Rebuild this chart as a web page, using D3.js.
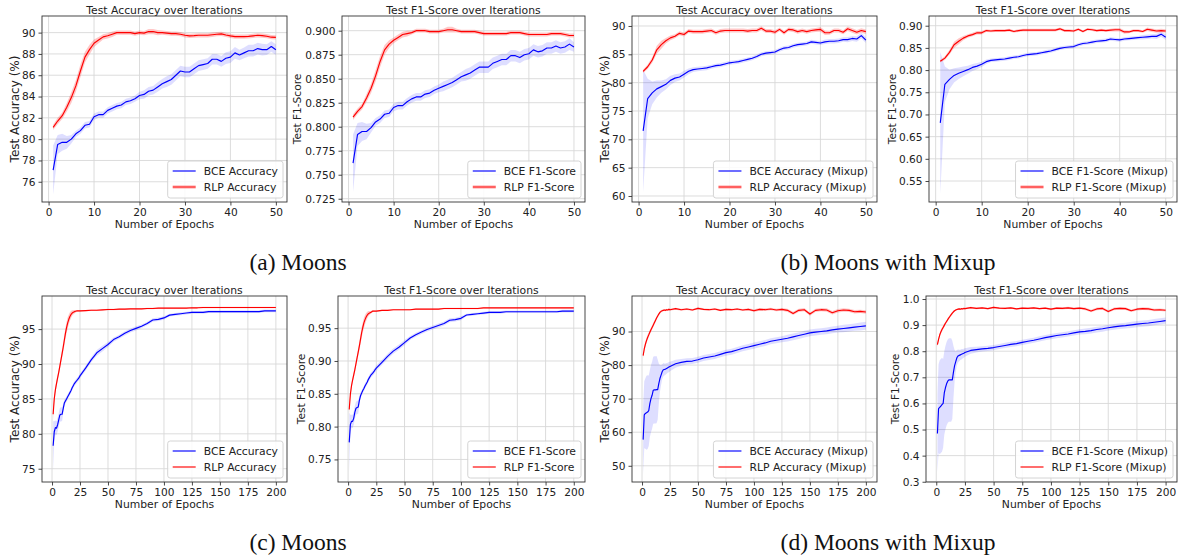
<!DOCTYPE html>
<html><head><meta charset="utf-8">
<script src="https://cdn.jsdelivr.net/npm/d3@7"></script>
<style>
body{margin:0;background:#fff;}
svg{display:block;font-family:"DejaVu Sans",sans-serif;}
</style></head><body>
<svg id="chart" width="1180" height="560"></svg>
<script>
// ---------------- epochs ----------------
const epochs50 = d3.range(1, 51);
const epochs200 = d3.range(1, 26).concat(d3.range(30, 201, 5));

// ---------------- tick labels ----------------
const xTicks50 = [0, 10, 20, 30, 40, 50];
const xTicks200 = [0, 25, 50, 75, 100, 125, 150, 175, 200];
const yTicksA1 = [76, 78, 80, 82, 84, 86, 88, 90];
const yTicksA2 = [0.725, 0.75, 0.775, 0.8, 0.825, 0.85, 0.875, 0.9];
const yTicksB1 = [60, 65, 70, 75, 80, 85, 90];
const yTicksB2 = [0.55, 0.6, 0.65, 0.7, 0.75, 0.8, 0.85, 0.9];
const yTicksC1 = [75, 80, 85, 90, 95];
const yTicksC2 = [0.75, 0.8, 0.85, 0.9, 0.95];
const yTicksD1 = [50, 60, 70, 80, 90];
const yTicksD2 = [0.3, 0.4, 0.5, 0.6, 0.7, 0.8, 0.9, 1.0];

// ---------------- (a) Moons, 50 epochs ----------------
const aBceAcc = [77.1,79.5,79.7,79.7,80.0,80.5,80.8,81.3,81.4,82.1,82.3,82.3,82.7,82.9,83.1,83.2,83.5,83.6,83.8,84.1,84.2,84.5,84.6,84.9,85.2,85.4,85.6,86.0,86.4,86.3,86.3,86.6,86.9,87.0,87.1,87.5,87.5,87.3,87.6,87.7,88.1,87.9,88.1,88.3,88.3,88.5,88.4,88.4,88.7,88.4];
const aBceAccSd = [2.3,0.9,0.8,0.6,0.4,0.3,0.3,0.3,0.3,0.3,0.3,0.3,0.3,0.3,0.3,0.3,0.3,0.3,0.3,0.35,0.4,0.4,0.4,0.45,0.45,0.5,0.5,0.5,0.5,0.5,0.5,0.5,0.5,0.5,0.5,0.5,0.5,0.5,0.55,0.55,0.55,0.5,0.5,0.55,0.55,0.55,0.55,0.5,0.5,0.5];
const aRlpAcc = [81.1,81.7,82.2,83.0,83.9,85.0,86.4,87.7,88.4,89.0,89.3,89.6,89.7,89.85,90.0,90.0,90.0,90.0,89.9,90.0,89.95,90.1,90.1,90.0,90.0,89.95,89.9,89.9,89.85,89.75,89.7,89.72,89.75,89.75,89.75,89.8,89.85,89.88,89.78,89.7,89.63,89.63,89.63,89.65,89.7,89.75,89.72,89.66,89.57,89.55];
const aRlpAccSd = [0.25,0.3,0.3,0.4,0.5,0.55,0.6,0.5,0.45,0.35,0.3,0.25,0.25,0.25,0.2,0.2,0.2,0.2,0.2,0.2,0.2,0.25,0.25,0.25,0.2,0.2,0.2,0.2,0.2,0.2,0.2,0.2,0.2,0.2,0.2,0.2,0.2,0.2,0.2,0.2,0.2,0.2,0.2,0.2,0.2,0.2,0.2,0.2,0.2,0.2];
const aBceF1 = [0.762,0.792,0.795,0.795,0.799,0.805,0.808,0.813,0.814,0.820,0.822,0.822,0.826,0.829,0.831,0.831,0.834,0.835,0.838,0.840,0.842,0.844,0.846,0.849,0.852,0.854,0.856,0.859,0.862,0.862,0.862,0.866,0.868,0.870,0.870,0.874,0.874,0.872,0.875,0.876,0.880,0.878,0.879,0.882,0.882,0.884,0.882,0.883,0.886,0.883];
const aBceF1Sd = [0.03,0.012,0.01,0.008,0.005,0.004,0.004,0.004,0.004,0.004,0.004,0.004,0.004,0.004,0.004,0.004,0.004,0.004,0.004,0.004,0.005,0.005,0.005,0.005,0.005,0.006,0.006,0.006,0.006,0.006,0.006,0.006,0.006,0.006,0.006,0.006,0.006,0.006,0.006,0.006,0.006,0.006,0.006,0.006,0.006,0.006,0.006,0.006,0.006,0.005];
const aRlpF1 = [0.810,0.816,0.821,0.830,0.840,0.853,0.868,0.880,0.886,0.890,0.893,0.896,0.897,0.898,0.900,0.900,0.900,0.899,0.899,0.899,0.900,0.901,0.901,0.900,0.899,0.899,0.899,0.899,0.898,0.897,0.897,0.897,0.897,0.897,0.897,0.898,0.898,0.898,0.897,0.896,0.896,0.896,0.896,0.896,0.897,0.897,0.897,0.896,0.895,0.895];
const aRlpF1Sd = [0.003,0.003,0.003,0.004,0.005,0.006,0.006,0.005,0.004,0.003,0.003,0.003,0.003,0.002,0.002,0.002,0.002,0.002,0.002,0.002,0.002,0.003,0.003,0.002,0.002,0.002,0.002,0.002,0.002,0.002,0.002,0.002,0.002,0.002,0.002,0.002,0.002,0.002,0.002,0.002,0.002,0.002,0.002,0.002,0.002,0.002,0.002,0.002,0.002,0.002];

// ---------------- (b) Moons with Mixup, 50 epochs ----------------
const bBceAcc = [71.5,77.2,78.2,78.9,79.3,79.7,80.4,80.8,81.0,81.5,82.0,82.3,82.4,82.5,82.6,82.8,83.0,83.1,83.3,83.5,83.6,83.7,83.9,84.1,84.3,84.6,85.0,85.2,85.3,85.4,85.8,86.1,86.2,86.5,86.7,86.8,86.9,87.2,87.1,87.0,87.2,87.3,87.3,87.4,87.6,87.6,87.8,87.7,88.3,87.5];
const bBceAccSd = [10.8,3.5,2.0,1.5,1.1,0.9,0.8,0.7,0.6,0.6,0.5,0.4,0.4,0.4,0.4,0.35,0.35,0.35,0.35,0.35,0.35,0.35,0.35,0.35,0.35,0.35,0.35,0.35,0.35,0.35,0.35,0.35,0.35,0.35,0.35,0.35,0.35,0.35,0.35,0.35,0.4,0.4,0.4,0.4,0.4,0.45,0.45,0.5,0.5,0.5];
const bRlpAcc = [82.0,82.8,84.0,85.8,86.7,87.4,87.9,88.2,88.7,88.5,89.1,89.0,89.0,89.0,89.1,89.2,88.8,89.1,89.2,89.2,89.2,89.2,89.2,89.1,89.2,89.2,89.6,89.1,89.1,88.9,89.4,88.8,89.4,89.3,89.0,89.2,89.0,89.2,89.3,89.4,88.8,88.8,89.2,89.2,88.9,89.5,89.2,88.9,89.2,89.0];
const bRlpAccSd = [0.3,0.4,0.5,0.7,0.7,0.5,0.4,0.35,0.35,0.35,0.35,0.35,0.35,0.35,0.35,0.35,0.35,0.35,0.35,0.35,0.35,0.35,0.35,0.35,0.35,0.35,0.35,0.35,0.35,0.35,0.35,0.35,0.35,0.35,0.35,0.35,0.35,0.35,0.35,0.4,0.4,0.35,0.35,0.35,0.35,0.4,0.4,0.4,0.4,0.4];
const bBceF1 = [0.681,0.768,0.779,0.788,0.793,0.797,0.801,0.806,0.809,0.813,0.819,0.822,0.823,0.824,0.825,0.827,0.829,0.830,0.833,0.835,0.836,0.837,0.839,0.841,0.843,0.846,0.849,0.851,0.852,0.853,0.857,0.860,0.861,0.863,0.865,0.866,0.867,0.870,0.869,0.868,0.870,0.871,0.872,0.873,0.874,0.875,0.876,0.876,0.881,0.874];
const bBceF1Sd = [0.16,0.04,0.022,0.016,0.013,0.011,0.009,0.008,0.007,0.006,0.005,0.004,0.004,0.004,0.004,0.004,0.004,0.004,0.004,0.004,0.004,0.004,0.004,0.004,0.004,0.004,0.004,0.004,0.004,0.004,0.004,0.004,0.004,0.004,0.004,0.004,0.004,0.004,0.004,0.004,0.004,0.004,0.004,0.004,0.005,0.005,0.005,0.006,0.006,0.006];
const bRlpF1 = [0.820,0.827,0.840,0.857,0.865,0.872,0.877,0.880,0.884,0.884,0.889,0.888,0.889,0.889,0.889,0.890,0.887,0.889,0.890,0.890,0.890,0.890,0.890,0.890,0.890,0.890,0.893,0.889,0.889,0.888,0.892,0.887,0.892,0.891,0.889,0.890,0.889,0.890,0.891,0.891,0.886,0.886,0.889,0.889,0.887,0.892,0.890,0.888,0.889,0.888];
const bRlpF1Sd = [0.003,0.004,0.005,0.007,0.007,0.005,0.004,0.004,0.004,0.004,0.003,0.003,0.003,0.003,0.003,0.003,0.003,0.003,0.003,0.003,0.003,0.003,0.003,0.003,0.003,0.003,0.003,0.003,0.003,0.003,0.003,0.003,0.003,0.003,0.003,0.003,0.003,0.003,0.004,0.004,0.004,0.003,0.003,0.003,0.003,0.004,0.004,0.004,0.004,0.004];

// ---------------- (c) Moons, 200 epochs ----------------
const cBceAcc = [78.3,80.3,80.9,80.8,81.3,82.0,82.7,82.8,82.8,83.6,84.4,84.7,85.0,85.3,85.6,85.9,86.2,86.6,86.9,87.2,87.4,87.6,87.8,88.0,88.3,
  89.4,90.6,91.6,92.2,92.8,93.5,93.9,94.4,94.8,95.1,95.4,95.8,96.3,96.4,96.6,97.0,97.1,97.2,97.3,97.4,97.4,97.4,97.5,97.5,97.5,97.5,97.5,97.5,97.5,97.5,97.5,97.5,97.6,97.6,97.6];
const cBceAccSd = [3.5,1.5,1.0,1.0,1.0,1.0,1.0,1.0,1.0,0.6,0.5,0.4,0.4,0.4,0.35,0.35,0.35,0.35,0.35,0.35,0.35,0.35,0.35,0.35,0.35,
  0.35,0.35,0.4,0.4,0.35,0.3,0.3,0.3,0.3,0.3,0.25,0.25,0.25,0.25,0.25,0.2,0.2,0.2,0.2,0.2,0.2,0.2,0.2,0.2,0.2,0.2,0.2,0.2,0.2,0.2,0.2,0.2,0.2,0.2,0.2];
const cRlpAcc = [82.8,85.0,86.3,87.2,88.0,88.8,89.7,90.6,91.5,92.4,93.4,94.4,95.2,95.9,96.4,96.8,97.1,97.3,97.4,97.5,97.55,97.6,97.6,97.6,97.6,
  97.65,97.7,97.7,97.75,97.8,97.8,97.85,97.85,97.9,97.9,97.9,97.95,97.95,98.0,98.0,98.0,98.0,98.0,98.0,98.05,98.05,98.1,98.1,98.1,98.1,98.1,98.1,98.1,98.1,98.1,98.1,98.1,98.1,98.1,98.1];
const cRlpAccSd = [0.8,0.5,0.5,0.5,0.5,0.5,0.5,0.5,0.6,0.7,0.8,0.8,0.8,0.8,0.7,0.6,0.5,0.4,0.3,0.25,0.2,0.15,0.12,0.1,0.1,
  0.1,0.1,0.1,0.1,0.1,0.1,0.1,0.1,0.1,0.1,0.1,0.1,0.1,0.1,0.1,0.1,0.1,0.1,0.1,0.1,0.1,0.1,0.1,0.1,0.1,0.1,0.1,0.1,0.1,0.1,0.1,0.1,0.1,0.1,0.1];
const cBceF1 = [0.776,0.803,0.808,0.808,0.813,0.822,0.828,0.829,0.830,0.840,0.847,0.851,0.855,0.858,0.862,0.865,0.868,0.872,0.875,0.878,0.880,0.882,0.884,0.887,0.889,
  0.898,0.907,0.915,0.921,0.928,0.935,0.940,0.944,0.948,0.951,0.954,0.957,0.962,0.963,0.965,0.970,0.971,0.972,0.973,0.974,0.974,0.974,0.975,0.975,0.975,0.975,0.975,0.975,0.975,0.975,0.975,0.975,0.976,0.976,0.976];
const cBceF1Sd = [0.045,0.015,0.01,0.01,0.01,0.01,0.01,0.01,0.01,0.006,0.005,0.004,0.004,0.004,0.004,0.004,0.004,0.004,0.004,0.004,0.004,0.004,0.004,0.004,0.004,
  0.004,0.004,0.004,0.004,0.004,0.003,0.003,0.003,0.003,0.003,0.003,0.003,0.003,0.003,0.003,0.002,0.002,0.002,0.002,0.002,0.002,0.002,0.002,0.002,0.002,0.002,0.002,0.002,0.002,0.002,0.002,0.002,0.002,0.002,0.002];
const cRlpF1 = [0.826,0.849,0.862,0.871,0.879,0.887,0.896,0.905,0.914,0.923,0.933,0.943,0.951,0.958,0.963,0.967,0.970,0.972,0.973,0.974,0.975,0.976,0.976,0.976,0.976,
  0.977,0.977,0.978,0.978,0.978,0.978,0.979,0.979,0.979,0.979,0.979,0.980,0.980,0.980,0.980,0.980,0.980,0.980,0.981,0.981,0.981,0.981,0.981,0.981,0.981,0.981,0.981,0.981,0.981,0.981,0.981,0.981,0.981,0.981,0.981];
const cRlpF1Sd = [0.008,0.005,0.005,0.005,0.005,0.005,0.005,0.005,0.006,0.007,0.008,0.008,0.008,0.008,0.007,0.006,0.005,0.004,0.003,0.002,0.002,0.0015,0.001,0.001,0.001,
  0.001,0.001,0.001,0.001,0.001,0.001,0.001,0.001,0.001,0.001,0.001,0.001,0.001,0.001,0.001,0.001,0.001,0.001,0.001,0.001,0.001,0.001,0.001,0.001,0.001,0.001,0.001,0.001,0.001,0.001,0.001,0.001,0.001,0.001,0.001];

// ---------------- (d) Moons with Mixup, 200 epochs ----------------
const dBceAcc = [57.8,65.2,65.6,65.8,66.0,66.4,68.5,70.0,71.0,72.5,72.6,72.6,72.7,72.7,74.5,76.0,77.0,78.0,78.6,78.7,78.8,79.0,79.2,79.4,79.6,
  80.4,80.8,81.1,81.2,81.6,82.1,82.4,82.7,83.2,83.7,84.0,84.5,85.0,85.4,85.8,86.2,86.6,87.1,87.4,87.7,88.0,88.4,88.8,89.2,89.6,89.8,90.0,90.2,90.5,90.7,90.9,91.1,91.3,91.5,91.7];
const dBceAccSd = [10.3,10,10.5,11,11,10.5,10,10,10,10,10,10,10,9,6,4,3,2.2,2,1.8,1.7,1.6,1.5,1.5,1.4,
  1.2,1.0,0.9,0.9,0.9,0.9,0.9,0.9,0.9,0.9,0.9,0.9,0.9,0.9,0.9,0.9,0.9,0.9,0.9,0.9,1.0,1.0,1.0,1.0,1.0,1.0,1.0,1.0,1.0,1.0,1.1,1.1,1.1,1.2,1.2];
const dRlpAcc = [82.8,84.8,86.2,87.3,88.2,89.0,89.8,90.5,91.2,91.9,92.6,93.3,94.0,94.6,95.2,95.7,96.0,96.2,96.3,96.4,96.3,96.5,96.4,96.6,96.5,
  96.8,96.5,96.7,96.4,96.9,96.6,96.5,96.7,96.3,96.6,96.5,96.7,96.4,96.6,96.2,96.6,96.5,96.7,96.4,96.6,96.3,95.4,96.3,96.5,95.2,96.3,96.5,96.4,95.6,96.2,96.4,96.3,95.9,96.0,95.8];
const dRlpAccSd = [0.8,0.8,0.8,0.8,0.8,0.7,0.7,0.6,0.6,0.6,0.6,0.6,0.5,0.5,0.5,0.4,0.4,0.3,0.3,0.3,0.3,0.3,0.3,0.3,0.3,
  0.3,0.3,0.3,0.3,0.3,0.3,0.3,0.3,0.3,0.3,0.3,0.3,0.3,0.3,0.4,0.4,0.4,0.4,0.4,0.4,0.5,0.5,0.5,0.5,0.5,0.5,0.5,0.5,0.5,0.5,0.5,0.5,0.5,0.5,0.5];
const dBceF1 = [0.485,0.580,0.585,0.590,0.595,0.600,0.640,0.660,0.675,0.685,0.690,0.690,0.690,0.690,0.720,0.745,0.760,0.775,0.782,0.784,0.786,0.788,0.790,0.792,0.795,
  0.803,0.806,0.809,0.811,0.814,0.818,0.822,0.826,0.829,0.834,0.838,0.842,0.847,0.852,0.856,0.860,0.863,0.866,0.870,0.874,0.876,0.879,0.883,0.886,0.890,0.893,0.896,0.898,0.901,0.904,0.906,0.908,0.911,0.914,0.917];
const dBceF1Sd = [0.15,0.17,0.18,0.18,0.18,0.17,0.16,0.16,0.16,0.16,0.16,0.16,0.16,0.15,0.1,0.06,0.04,0.03,0.025,0.022,0.02,0.02,0.018,0.017,0.016,
  0.013,0.011,0.01,0.01,0.01,0.01,0.01,0.01,0.01,0.01,0.01,0.01,0.01,0.01,0.01,0.01,0.01,0.01,0.01,0.01,0.011,0.011,0.011,0.011,0.011,0.011,0.011,0.011,0.012,0.012,0.012,0.012,0.012,0.012,0.012];
const dRlpF1 = [0.825,0.845,0.862,0.874,0.883,0.891,0.899,0.907,0.914,0.921,0.928,0.934,0.940,0.946,0.951,0.955,0.958,0.960,0.961,0.962,0.961,0.963,0.962,0.964,0.963,
  0.967,0.964,0.966,0.963,0.968,0.965,0.964,0.966,0.962,0.965,0.964,0.966,0.963,0.965,0.961,0.965,0.964,0.966,0.963,0.965,0.962,0.954,0.962,0.964,0.952,0.962,0.964,0.963,0.955,0.961,0.963,0.962,0.958,0.959,0.957];
const dRlpF1Sd = [0.008,0.008,0.008,0.008,0.008,0.007,0.007,0.006,0.006,0.006,0.006,0.006,0.005,0.005,0.005,0.004,0.004,0.003,0.003,0.003,0.003,0.003,0.003,0.003,0.003,
  0.003,0.003,0.003,0.003,0.003,0.003,0.003,0.003,0.003,0.003,0.003,0.003,0.003,0.003,0.004,0.004,0.004,0.004,0.004,0.004,0.005,0.005,0.005,0.005,0.005,0.005,0.005,0.005,0.005,0.005,0.005,0.005,0.005,0.005,0.005];

// ---------------- text ----------------
const titleAcc = "Test Accuracy over Iterations";
const titleF1 = "Test F1-Score over Iterations";
const captions = ["(a) Moons", "(b) Moons with Mixup", "(c) Moons", "(d) Moons with Mixup"];

// ---------------- layout ----------------
const f0 = d3.format("d"), f3 = d3.format(".3f"), f2 = d3.format(".2f"), f1 = d3.format(".1f");
const panels = [
  {frame:[42,287,16,202], xDom:[-1.45,52.45], yDom:[74.1,91.56], yTicks:yTicksA1, yFmt:f0, xTicks:xTicks50, title:titleAcc, ylabel:"Test Accuracy (%)", ylx:15, ylfs:12,
   epochs:epochs50, bce:aBceAcc, bceSd:aBceAccSd, rlp:aRlpAcc, rlpSd:aRlpAccSd, labels:["BCE Accuracy","RLP Accuracy"], thick:true},
  {frame:[342,585,16,202], xDom:[-1.45,52.45], yDom:[0.7216,0.9153], yTicks:yTicksA2, yFmt:f3, xTicks:xTicks50, title:titleF1, ylabel:"Test F1-Score", ylx:297, ylfs:10.6,
   epochs:epochs50, bce:aBceF1, bceSd:aBceF1Sd, rlp:aRlpF1, rlpSd:aRlpF1Sd, labels:["BCE F1-Score","RLP F1-Score"], thick:true},
  {frame:[632,877,16,202], xDom:[-1.45,52.45], yDom:[58.94,91.76], yTicks:yTicksB1, yFmt:f0, xTicks:xTicks50, title:titleAcc, ylabel:"Test Accuracy (%)", ylx:605, ylfs:12,
   epochs:epochs50, bce:bBceAcc, bceSd:bBceAccSd, rlp:bRlpAcc, rlpSd:bRlpAccSd, labels:["BCE Accuracy (Mixup)","RLP Accuracy (Mixup)"], thick:true},
  {frame:[929,1177,16,202], xDom:[-1.45,52.45], yDom:[0.5027,0.9219], yTicks:yTicksB2, yFmt:f2, xTicks:xTicks50, title:titleF1, ylabel:"Test F1-Score", ylx:892, ylfs:10.6,
   epochs:epochs50, bce:bBceF1, bceSd:bBceF1Sd, rlp:bRlpF1, rlpSd:bRlpF1Sd, labels:["BCE F1-Score (Mixup)","RLP F1-Score (Mixup)"], thick:true},
  {frame:[42,287,296,482], xDom:[-8.95,209.95], yDom:[73.1,99.74], yTicks:yTicksC1, yFmt:f0, xTicks:xTicks200, title:titleAcc, ylabel:"Test Accuracy (%)", ylx:15, ylfs:12,
   epochs:epochs200, bce:cBceAcc, bceSd:cBceAccSd, rlp:cRlpAcc, rlpSd:cRlpAccSd, labels:["BCE Accuracy","RLP Accuracy"], thick:false},
  {frame:[338,585,296,482], xDom:[-8.95,209.95], yDom:[0.7156,0.999], yTicks:yTicksC2, yFmt:f2, xTicks:xTicks200, title:titleF1, ylabel:"Test F1-Score", ylx:301, ylfs:10.6,
   epochs:epochs200, bce:cBceF1, bceSd:cBceF1Sd, rlp:cRlpF1, rlpSd:cRlpF1Sd, labels:["BCE F1-Score","RLP F1-Score"], thick:false},
  {frame:[632,877,296,482], xDom:[-8.95,209.95], yDom:[45.17,100.58], yTicks:yTicksD1, yFmt:f0, xTicks:xTicks200, title:titleAcc, ylabel:"Test Accuracy (%)", ylx:605, ylfs:12,
   epochs:epochs200, bce:dBceAcc, bceSd:dBceAccSd, rlp:dRlpAcc, rlpSd:dRlpAccSd, labels:["BCE Accuracy (Mixup)","RLP Accuracy (Mixup)"], thick:false},
  {frame:[926,1177,296,482], xDom:[-8.95,209.95], yDom:[0.299,1.0115], yTicks:yTicksD2, yFmt:f1, xTicks:xTicks200, title:titleF1, ylabel:"Test F1-Score", ylx:895, ylfs:10.6,
   epochs:epochs200, bce:dBceF1, bceSd:dBceF1Sd, rlp:dRlpF1, rlpSd:dRlpF1Sd, labels:["BCE F1-Score (Mixup)","RLP F1-Score (Mixup)"], thick:false}
];

const svg = d3.select("#chart");
const BLUE = "#0000ff", RED = "#ff0000";
const TICK_FS = 10.6, LAB_FS = 10.8;

panels.forEach((p, i) => {
  const [x0, x1, y0, y1] = p.frame;
  const x = d3.scaleLinear().domain(p.xDom).range([x0, x1]);
  const y = d3.scaleLinear().domain(p.yDom).range([y1, y0]);
  const g = svg.append("g");

  // grid
  g.append("g").selectAll("line").data(p.yTicks).join("line")
    .attr("x1", x0).attr("x2", x1).attr("y1", d => y(d)).attr("y2", d => y(d))
    .attr("stroke", "#d8d8d8").attr("stroke-width", 0.9);
  g.append("g").selectAll("line").data(p.xTicks).join("line")
    .attr("y1", y0).attr("y2", y1).attr("x1", d => x(d)).attr("x2", d => x(d))
    .attr("stroke", "#d8d8d8").attr("stroke-width", 0.9);

  // clip
  const cid = "clip" + i;
  svg.append("clipPath").attr("id", cid).append("rect")
    .attr("x", x0).attr("y", y0).attr("width", x1 - x0).attr("height", y1 - y0);
  const plot = g.append("g").attr("clip-path", `url(#${cid})`);

  const series = [
    {m: p.bce, s: p.bceSd, c: BLUE, op: 0.13},
    {m: p.rlp, s: p.rlpSd, c: RED, op: 0.22}
  ];
  const idx = d3.range(p.epochs.length);
  series.forEach(se => {
    plot.append("path").datum(idx)
      .attr("d", d3.area().x(k => x(p.epochs[k])).y0(k => y(se.m[k] - se.s[k])).y1(k => y(se.m[k] + se.s[k])))
      .attr("fill", se.c).attr("fill-opacity", se.op).attr("stroke", "none");
  });
  series.forEach(se => {
    plot.append("path").datum(idx)
      .attr("d", d3.line().x(k => x(p.epochs[k])).y(k => y(se.m[k])))
      .attr("fill", "none").attr("stroke", se.c).attr("stroke-width", 1.15).attr("stroke-linejoin", "round");
  });

  // frame
  g.append("rect").attr("x", x0).attr("y", y0).attr("width", x1 - x0).attr("height", y1 - y0)
    .attr("fill", "none").attr("stroke", "#333").attr("stroke-width", 0.9);

  // axes
  const ya = g.append("g").attr("transform", `translate(${x0},0)`)
    .call(d3.axisLeft(y).tickValues(p.yTicks).tickFormat(p.yFmt).tickSize(3.5).tickPadding(3));
  const xa = g.append("g").attr("transform", `translate(0,${y1})`)
    .call(d3.axisBottom(x).tickValues(p.xTicks).tickFormat(f0).tickSize(3.5).tickPadding(3));
  [ya, xa].forEach(a => {
    a.select(".domain").remove();
    a.selectAll("line").attr("stroke", "#333").attr("stroke-width", 0.9);
    a.selectAll("text").attr("font-size", TICK_FS).attr("fill", "#222")
      .attr("font-family", "DejaVu Sans");
  });

  // title / labels
  const cx = (x0 + x1) / 2;
  g.append("text").attr("x", cx).attr("y", y0 - 2).attr("text-anchor", "middle")
    .attr("font-size", LAB_FS).attr("fill", "#222").text(p.title);
  g.append("text").attr("x", cx).attr("y", y1 + 26).attr("text-anchor", "middle")
    .attr("font-size", LAB_FS).attr("fill", "#222").text("Number of Epochs");
  g.append("text").attr("transform", `translate(${p.ylx},${(y0 + y1) / 2}) rotate(-90)`)
    .attr("text-anchor", "middle").attr("dominant-baseline", "central")
    .attr("font-size", p.ylfs).attr("fill", "#222").text(p.ylabel);

  // legend
  const lg = g.append("g");
  const box = lg.append("rect");
  const texts = p.labels.map((t, k) => lg.append("text").attr("font-size", LAB_FS).attr("fill", "#222")
    .attr("dominant-baseline", "central").text(t));
  const tw = d3.max(texts, t => t.node().getComputedTextLength());
  const bw = 36 + tw + 5, bh = 37;
  const bx = x1 - 4 - bw, by = y1 - 4 - bh;
  box.attr("x", bx).attr("y", by).attr("width", bw).attr("height", bh).attr("rx", 2.5)
    .attr("fill", "#fff").attr("fill-opacity", 0.85).attr("stroke", "#cfcfcf").attr("stroke-width", 0.9);
  texts.forEach((t, k) => t.attr("x", bx + 36).attr("y", by + 10 + k * 16));
  lg.append("line").attr("x1", bx + 5).attr("x2", bx + 28).attr("y1", by + 10).attr("y2", by + 10)
    .attr("stroke", BLUE).attr("stroke-width", 1.15);
  lg.append("line").attr("x1", bx + 5).attr("x2", bx + 28).attr("y1", by + 26).attr("y2", by + 26)
    .attr("stroke", p.thick ? "#ff6060" : RED).attr("stroke-width", p.thick ? 2.6 : 1.15);
});

// captions
const capPos = [[298, 270], [888, 270], [298, 550], [888, 550]];
captions.forEach((c, i) => {
  svg.append("text").attr("x", capPos[i][0]).attr("y", capPos[i][1]).attr("text-anchor", "middle")
    .attr("font-family", "'Liberation Serif','Times New Roman',serif").attr("font-size", 23.5)
    .attr("fill", "#111").text(c);
});
</script>
</body></html>
